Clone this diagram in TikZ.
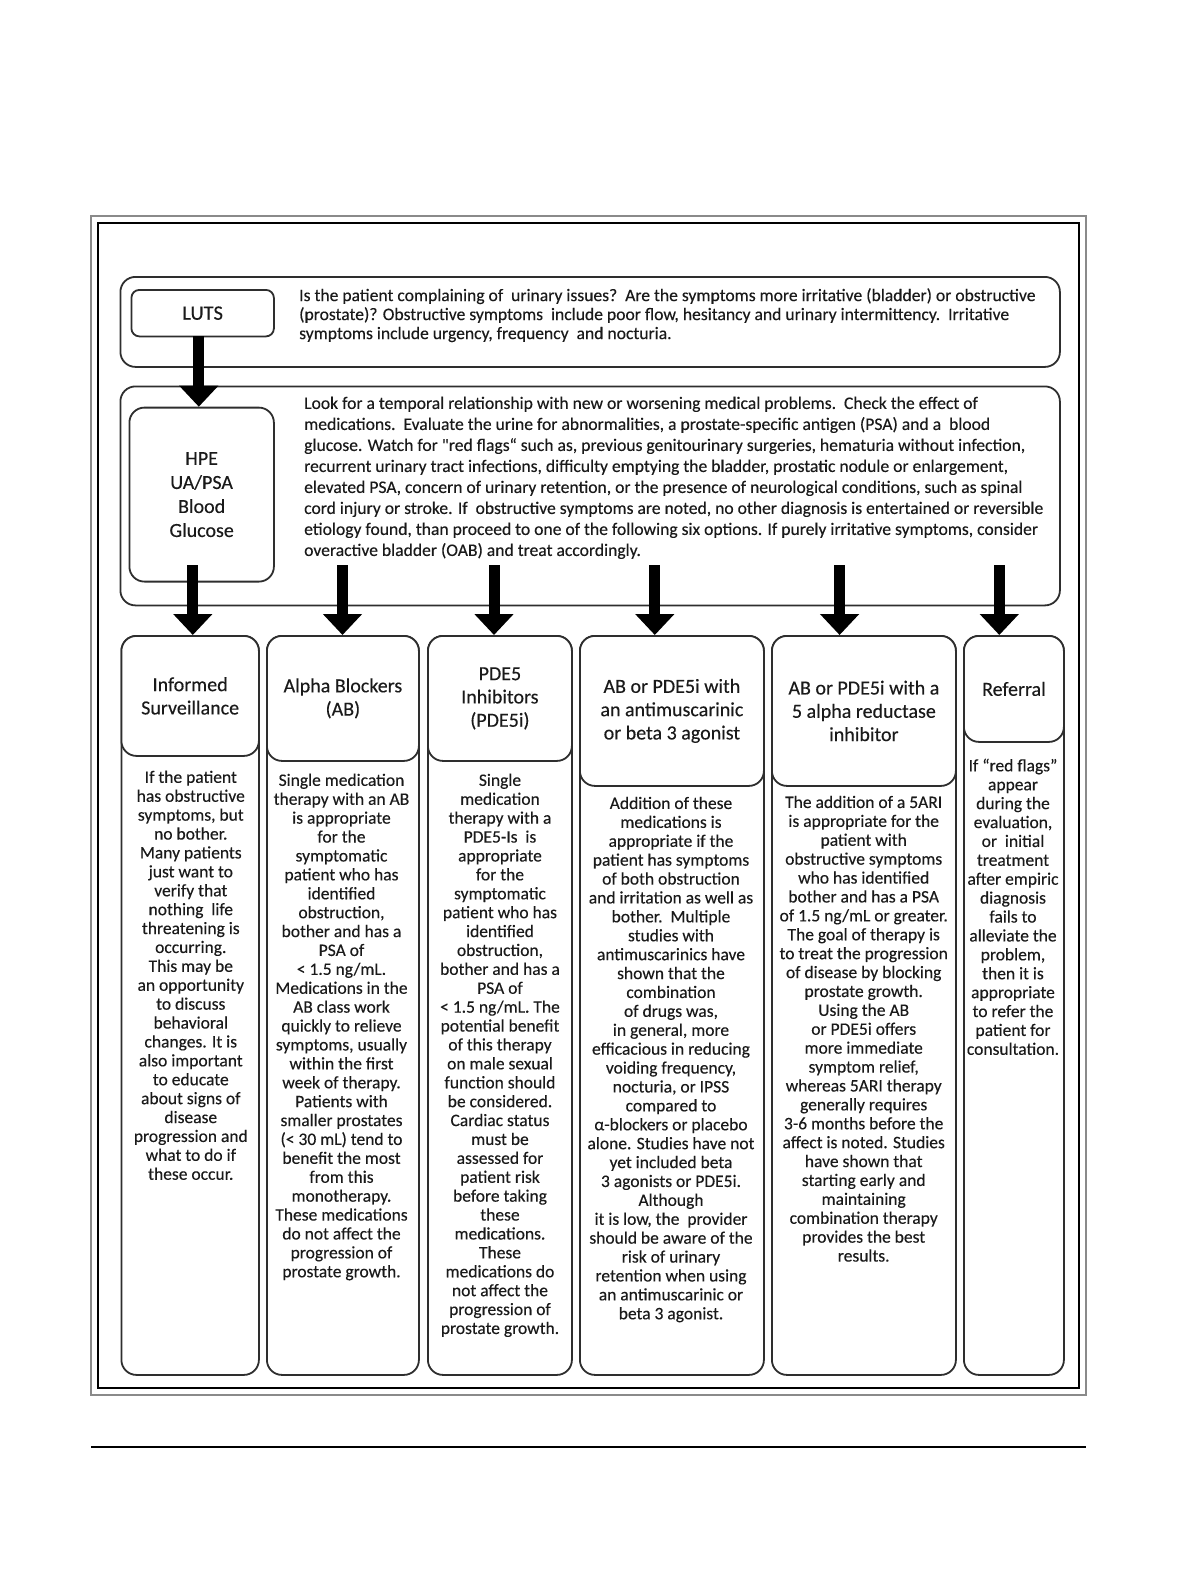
\documentclass[tikz,border=0pt]{standalone}
\usepackage{fontspec}
\setmainfont{Carlito}[FakeBold=0.25, Ligatures=TeXOff]
\usetikzlibrary{arrows.meta}
\definecolor{boxline}{HTML}{2E2E2E}
\definecolor{framegray}{HTML}{8A8A8A}
\definecolor{txt}{HTML}{1A1A1A}
\begin{document}
\begin{tikzpicture}[x=1pt,y=-1pt,
  box/.style={draw=boxline, line width=1.8pt, rounded corners=15pt, inner sep=0pt, anchor=north west, fill=white, text=txt},
  smallbox/.style={box, rounded corners=8pt},
  hdr/.style={box, align=center, font=\fontsize{20}{23.3}\selectfont},
  bodytxt/.style={align=center, anchor=north, inner sep=0pt, text=txt, font=\fontsize{17.5}{18.9}\selectfont},
  widetxt/.style={align=left, anchor=north west, inner sep=0pt, text=txt},
  bigarrow/.style={line width=11pt, -{Triangle[width=38pt,length=21pt]}, black}
]
\useasboundingbox (0,0) rectangle (1176,1575);
% frames
\draw[framegray, line width=2pt] (91,216) rectangle (1086,1395);
\draw[black, line width=1.4pt] (98,223) rectangle (1079,1388);
\draw[black, line width=2.2pt] (91,1447) -- (1086,1447);

% top row
\node[box, minimum width=939.5pt, minimum height=90pt] (top) at (119.5,276) {};
\node[smallbox, minimum width=142.5pt, minimum height=46.5pt, font=\fontsize{20.5}{24}\selectfont] (luts) at (130.5,289) {LUTS};
\node[widetxt, font=\fontsize{17.6}{19}\selectfont] (toptxt) at (299,288) {Is the patient complaining of\ \ urinary issues?\ \ Are the symptoms more irritative (bladder) or obstructive\\
(prostate)? Obstructive symptoms\ \ include poor flow, hesitancy and urinary intermittency.\ \ Irritative\\
symptoms include urgency, frequency\ \ and nocturia.};

% second row
\node[box, minimum width=939.5pt, minimum height=219pt] (eval) at (119.5,385.5) {};
\node[box, minimum width=144.5pt, minimum height=174pt, align=center, font=\fontsize{20}{24}\selectfont] (hpe) at (128.5,406.7) {HPE\\UA/PSA\\Blood\\Glucose};
\node[widetxt, font=\fontsize{17.6}{21}\selectfont] (evaltxt) at (304,396.5) {Look for a temporal relationship with new or worsening medical problems.\ \ Check the effect of\\
medications.\ \ Evaluate the urine for abnormalities, a prostate-specific antigen (PSA) and a\ \ blood\\
glucose. Watch for "red flags“ such as, previous genitourinary surgeries, hematuria without infection,\\
recurrent urinary tract infections, difficulty emptying the bladder, prostatic nodule or enlargement,\\
elevated PSA, concern of urinary retention, or the presence of neurological conditions, such as spinal\\
cord injury or stroke. If\ \ obstructive symptoms are noted, no other diagnosis is entertained or reversible\\
etiology found, than proceed to one of the following six options. If purely irritative symptoms, consider\\
overactive bladder (OAB) and treat accordingly.};

% columns
\node[box, minimum width=137.5pt, minimum height=739pt] (c1) at (120.5,635) {};
\node[box, minimum width=152pt, minimum height=739pt] (c2) at (266,635) {};
\node[box, minimum width=144pt, minimum height=739pt] (c3) at (427,635) {};
\node[box, minimum width=184pt, minimum height=739pt] (c4) at (579,635) {};
\node[box, minimum width=184pt, minimum height=739pt] (c5) at (771,635) {};
\node[box, minimum width=100pt, minimum height=739pt] (c6) at (963,635) {};

\node[hdr, minimum width=137.5pt, minimum height=120pt] (h1) at (120.5,635) {Informed\\Surveillance};
\node[hdr, minimum width=152pt, minimum height=125pt] (h2) at (266,635) {Alpha Blockers\\(AB)};
\node[hdr, minimum width=144pt, minimum height=125pt] (h3) at (427,635) {PDE5\\Inhibitors\\(PDE5i)};
\node[hdr, minimum width=184pt, minimum height=150pt] (h4) at (579,635) {AB or PDE5i with\\an antimuscarinic\\or beta 3 agonist};
\node[hdr, minimum width=184pt, minimum height=150pt] (h5) at (771,635) {AB or PDE5i with a\\5 alpha reductase\\inhibitor};
\node[hdr, minimum width=100pt, minimum height=106pt] (h6) at (963,635) {Referral};

% body texts
\node[bodytxt] (t1) at (190.8,770.5) {If the patient\\has obstructive\\symptoms, but\\no bother.\\Many patients\\just want to\\verify that\\nothing\ \ life\\threatening is\\occurring.\\This may be\\an opportunity\\to discuss\\behavioral\\changes. It is\\also important\\to educate\\about signs of\\disease\\progression and\\what to do if\\these occur.};
\node[bodytxt] (t2) at (341.5,773.5) {Single medication\\therapy with an AB\\is appropriate\\for the\\symptomatic\\patient who has\\identified\\obstruction,\\bother and has a\\PSA of\\< 1.5 ng/mL.\\Medications in the\\AB class work\\quickly to relieve\\symptoms, usually\\within the first\\week of therapy.\\Patients with\\smaller prostates\\(< 30 mL) tend to\\benefit the most\\from this\\monotherapy.\\These medications\\do not affect the\\progression of\\prostate growth.};
\node[bodytxt] (t3) at (500,773.5) {Single\\medication\\therapy with a\\PDE5-Is\ \ is\\appropriate\\for the\\symptomatic\\patient who has\\identified\\obstruction,\\bother and has a\\PSA of\\< 1.5 ng/mL. The\\potential benefit\\of this therapy\\on male sexual\\function should\\be considered.\\Cardiac status\\must be\\assessed for\\patient risk\\before taking\\these\\medications.\\These\\medications do\\not affect the\\progression of\\prostate growth.};
\node[bodytxt] (t4) at (671,796.6) {Addition of these\\medications is\\appropriate if the\\patient has symptoms\\of both obstruction\\and irritation as well as\\bother.\ \ Multiple\\studies with\\antimuscarinics have\\shown that the\\combination\\of drugs was,\\in general, more\\efficacious in reducing\\voiding frequency,\\nocturia, or IPSS\\compared to\\α-blockers or placebo\\alone. Studies have not\\yet included beta\\3 agonists or PDE5i.\\Although\\it is low, the\ \ provider\\should be aware of the\\risk of urinary\\retention when using\\an antimuscarinic or\\beta 3 agonist.};
\node[bodytxt] (t5) at (863.7,795.6) {The addition of a 5ARI\\is appropriate for the\\patient with\\obstructive symptoms\\who has identified\\bother and has a PSA\\of 1.5 ng/mL or greater.\\The goal of therapy is\\to treat the progression\\of disease by blocking\\prostate growth.\\Using the AB\\or PDE5i offers\\more immediate\\symptom relief,\\whereas 5ARI therapy\\generally requires\\3-6 months before the\\affect is noted. Studies\\have shown that\\starting early and\\maintaining\\combination therapy\\provides the best\\results.};
\node[bodytxt] (t6) at (1013,758.5) {If “red flags”\\appear\\during the\\evaluation,\\or\ \ initial\\treatment\\after empiric\\diagnosis\\fails to\\alleviate the\\problem,\\then it is\\appropriate\\to refer the\\patient for\\consultation.};

% arrows
\coordinate (la) at (198.8,336);
\draw[bigarrow] (la) -- (la |- hpe.north);
\coordinate (a1) at (192.8,565);
\coordinate (a2) at (342.5,565);
\coordinate (a3) at (494,565);
\coordinate (a4) at (654.8,565);
\coordinate (a5) at (839.6,565);
\coordinate (a6) at (999.3,565);
\draw[bigarrow] (a1) -- (a1 |- h1.north);
\draw[bigarrow] (a2) -- (a2 |- h2.north);
\draw[bigarrow] (a3) -- (a3 |- h3.north);
\draw[bigarrow] (a4) -- (a4 |- h4.north);
\draw[bigarrow] (a5) -- (a5 |- h5.north);
\draw[bigarrow] (a6) -- (a6 |- h6.north);
\end{tikzpicture}
\end{document}
